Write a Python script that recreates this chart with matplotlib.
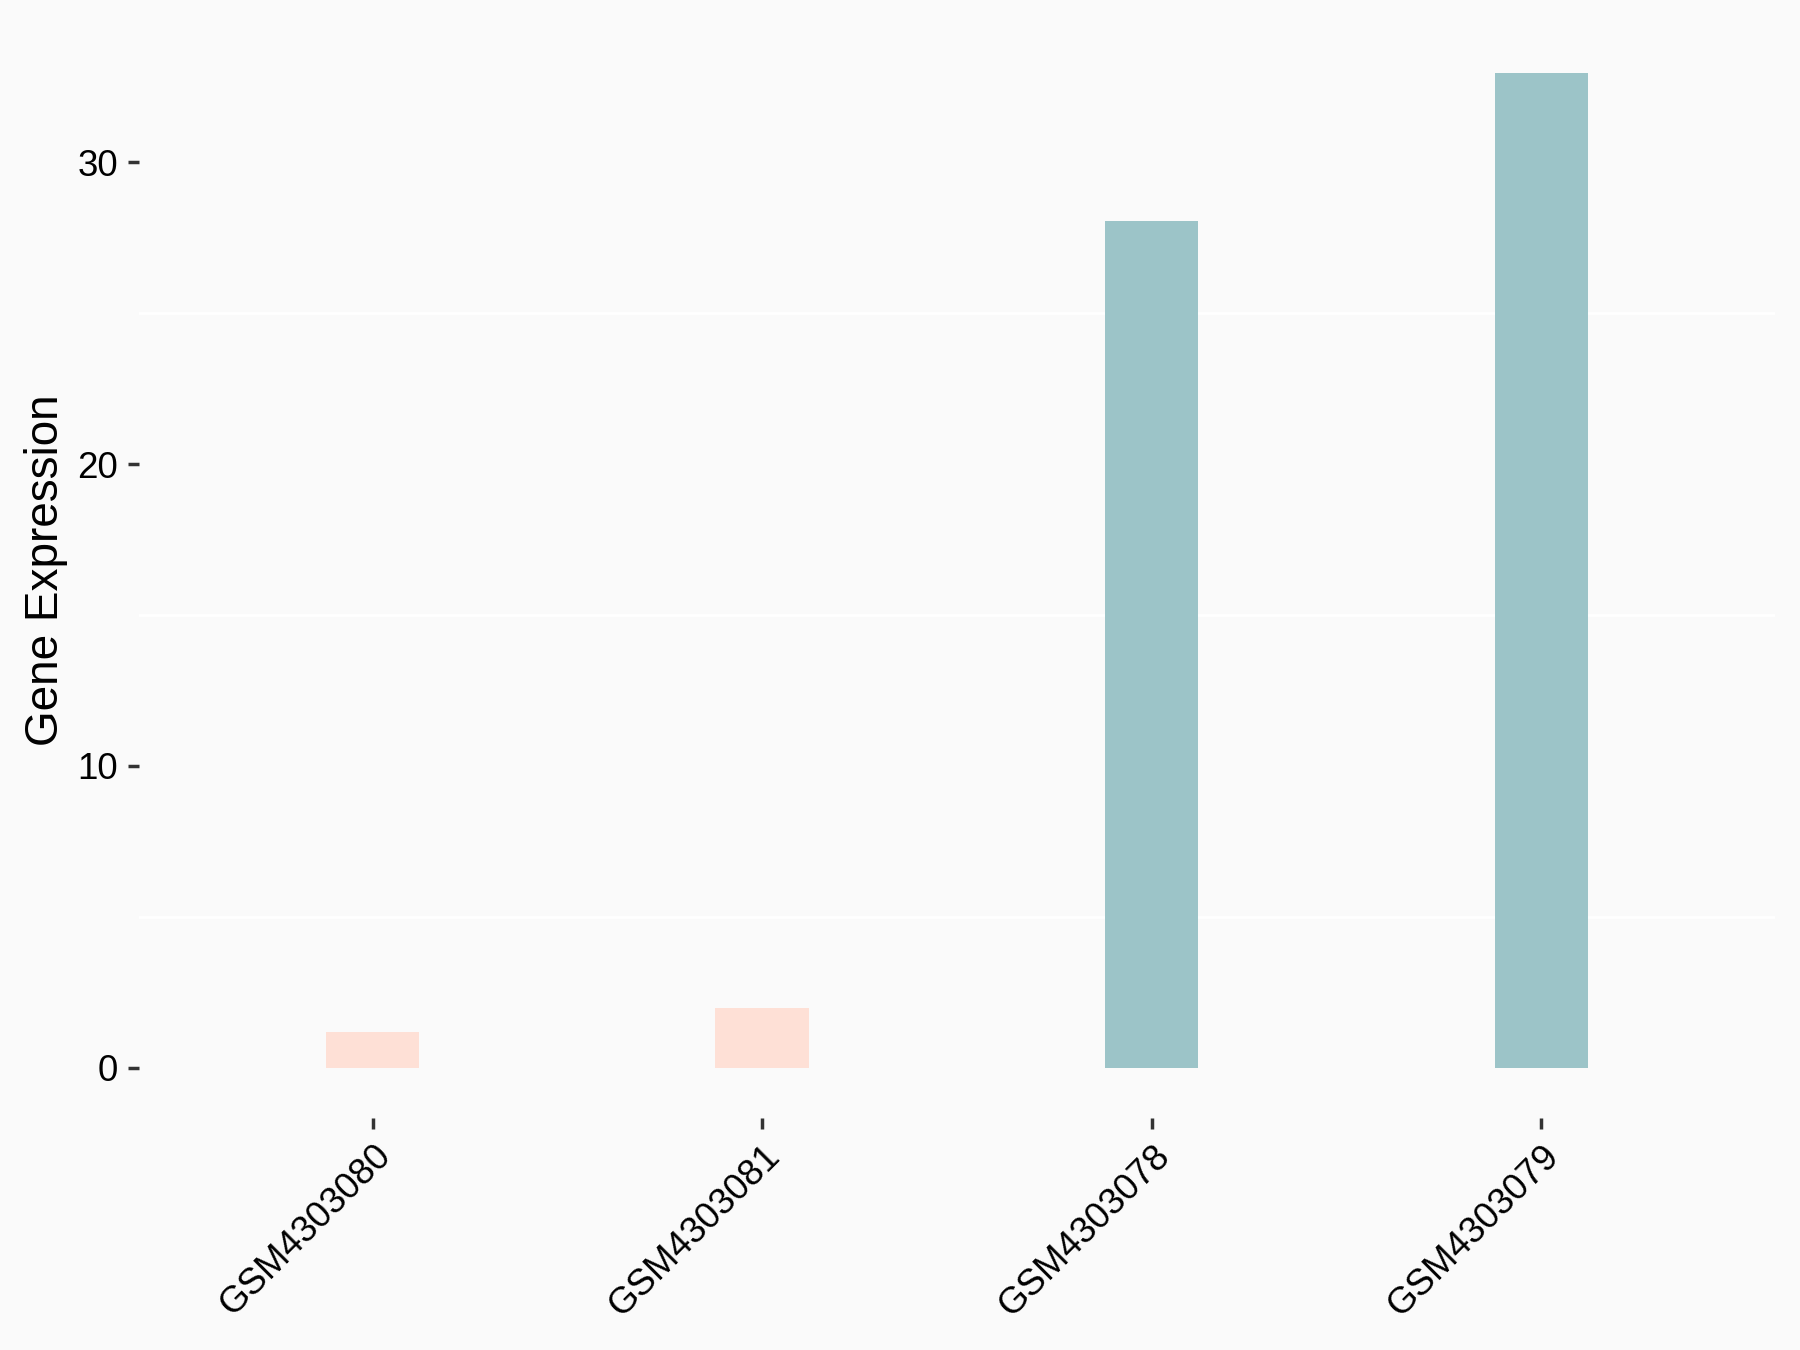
import numpy as np
import matplotlib
matplotlib.use("Agg")
import matplotlib.pyplot as plt
from matplotlib.ticker import MultipleLocator

# values
samples = ["GSM4303080", "GSM4303081", "GSM4303078", "GSM4303079"]
expression = [1.19, 1.98, 28.07, 32.97]
groups = ["low", "low", "high", "high"]
group_colors = {"low": "#FEE0D6", "high": "#9CC4C8"}

plt.rcParams["font.family"] = ["Liberation Sans", "DejaVu Sans"]

fig = plt.figure(figsize=(18, 13.5), dpi=100)
fig.patch.set_facecolor("#FAFAFA")
ax = fig.add_axes([0.0772, 0.1722, 0.9089, 0.8108])
ax.set_facecolor("#FAFAFA")

xpos = np.arange(1, len(samples) + 1)
ax.bar(xpos, expression, width=0.24, color=[group_colors[g] for g in groups],
       zorder=2)

# ggplot-like limits
ymax = max(expression)
ax.set_xlim(0.4, len(samples) + 0.6)
ax.set_ylim(-0.05 * ymax, 1.05 * ymax)

ax.yaxis.set_major_locator(MultipleLocator(10))
ax.yaxis.set_minor_locator(MultipleLocator(5))
ax.grid(which="minor", axis="y", color="white", linewidth=2.0, zorder=0)
ax.grid(which="major", visible=False)
ax.tick_params(axis="y", which="minor", length=0)

ax.set_xticks(xpos)
ax.set_xticklabels(samples, rotation=45, ha="right", va="top",
                   rotation_mode="anchor")
ax.tick_params(axis="both", which="major", length=8, width=2.5,
               color="#333333", labelsize=26.5, labelcolor="black", pad=7)

for s in ax.spines.values():
    s.set_visible(False)

ax.set_ylabel("Gene Expression", fontsize=33, labelpad=7)

fig.savefig("out.png", dpi=100, facecolor=fig.get_facecolor())
